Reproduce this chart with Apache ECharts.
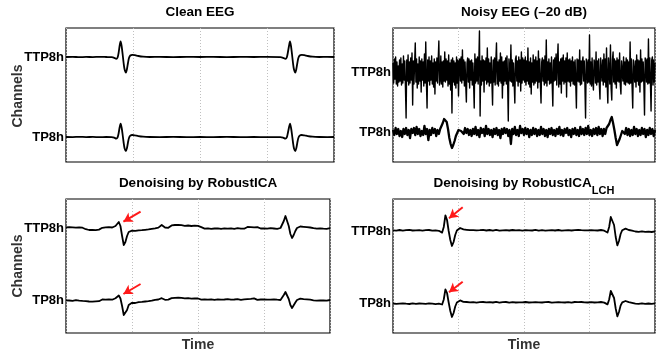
<!DOCTYPE html>
<html>
<head>
<meta charset="utf-8">
<script src="https://cdn.jsdelivr.net/npm/echarts@6/dist/echarts.min.js"></script>
<style>
  html, body { margin: 0; padding: 0; background: #fff; }
  #main { width: 660px; height: 356px; }
</style>
</head>
<body>
<div id="main"></div>
<script>
// channel names (y tick labels)
var channels = ['TTP8h', 'TP8h'];

// clean EEG, sparse [time, amplitude] points
var cleanTTP = [[0,0],[10,0.2],[20,-0.2],[30,0.1],[40,-0.1],[50,0.2],[60,0],[68,-0.2],[72,-0.8],[75,-1.8],[77,-0.5],[78.5,4],[80,11],[81.5,15.5],[83,11],[84.5,3],[86,-6],[87.5,-12.5],[89.5,-15.5],[91,-12],[92.5,-6],[94,-1],[96,1.5],[99,2.2],[103,1.8],[108,1],[115,0.3],[125,0],[140,0.1],[160,-0.1],[180,0.1],[200,0],[220,0.1],[240,-0.1],[260,0.1],[280,0],[300,0.1],[320,-0.2],[324,-0.8],[327.5,-1.8],[329.5,-0.5],[331,4],[332.8,11],[334.3,15.5],[335.8,11],[337.3,3],[338.8,-6],[340.3,-12.5],[342.3,-15.5],[343.8,-12],[345.3,-6],[346.8,-1],[348.8,1.5],[351.8,2.2],[355.8,1.8],[360.8,1],[367.8,0.3],[378,0],[390,0.1],[400,0]];
var cleanTP = [[0,0],[10,-0.1],[20,0.2],[30,-0.1],[40,0.1],[50,-0.2],[60,0],[68,-0.2],[72,-0.7],[75,-1.6],[77,-0.4],[78.5,3.5],[80,9.5],[81.5,13.4],[83,9.5],[84.5,2.5],[86,-5.5],[87.5,-11.5],[89.5,-14],[91,-11],[92.5,-5.5],[94,-1],[96,1.3],[99,2],[103,1.6],[108,0.9],[115,0.3],[125,0],[140,-0.1],[160,0.1],[180,-0.1],[200,0],[220,-0.1],[240,0.1],[260,-0.1],[280,0],[300,-0.1],[320,-0.2],[324,-0.7],[327.5,-1.6],[329.5,-0.4],[331,3.5],[332.8,9.5],[334.3,13.4],[335.8,9.5],[337.3,2.5],[338.8,-5.5],[340.3,-11.5],[342.3,-14],[343.8,-11],[345.3,-5.5],[346.8,-1],[348.8,1.3],[351.8,2],[355.8,1.6],[360.8,0.9],[367.8,0.3],[378,0],[390,-0.1],[400,0]];

// noisy EEG (-20 dB): TTP8h one value per time unit, TP8h one every 2
var noisyTTPStep = 1;
var noisyTTP = [
  9,-11,13,-7,15,-12,10,-14,6,-10,12,-9,14,-13,8,-11,16,-8,11,-15,
  -46,12,-9,17,-13,10,-11,14,-8,19,-33,11,-12,9,29,-10,13,-16,8,-12,
  15,-9,11,-20,13,-8,10,-14,18,-11,30,-10,-36,12,-9,15,-13,11,-8,16,
  -12,9,-15,13,-22,10,-9,14,-11,12,31,-13,-8,16,-12,10,-15,11,-9,20,
  -10,13,-8,11,-14,17,-12,9,-18,12,-41,14,-10,11,-13,9,-16,15,-11,12,
  -24,10,13,-9,15,-11,22,-8,12,-14,10,-12,-30,9,14,-10,13,-16,11,-8,
  12,-13,9,-10,-36,18,-11,13,-9,15,-12,10,41,-44,11,-13,16,-9,12,-20,
  11,-8,14,-12,24,-10,13,-14,9,-11,15,-9,-33,12,-10,14,-13,11,29,-12,
  10,-14,12,-9,19,-11,15,-26,10,-13,11,-9,14,-12,16,-10,-49,13,11,-9,
  27,-10,12,-14,9,-11,-31,13,16,-9,11,-14,15,-10,12,-19,20,-11,14,-8,
  12,-10,15,-13,11,-9,24,-12,10,-15,14,-22,9,-10,17,-13,12,-11,15,-9,
  11,-16,21,-10,13,-12,-31,10,14,-9,12,-13,16,-11,32,-14,10,-8,13,-12,
  9,-11,15,-10,-34,12,-9,14,-8,18,-13,11,28,-15,10,-12,13,-21,14,-9,
  17,-12,11,-10,14,-25,19,-9,12,-10,13,-14,11,-9,15,-12,10,-13,12,-11,
  -36,13,-9,12,-10,22,-13,11,-12,10,15,-9,11,-12,-46,13,9,-11,12,-10,
  37,-12,10,-14,14,-10,-18,12,9,-11,20,-13,11,-10,13,-12,-27,14,16,-9,
  12,-13,18,-10,13,-15,24,-11,-31,14,15,-12,27,-16,-28,12,20,-10,13,-12,
  11,-16,14,-9,12,-10,19,-13,-22,11,12,-9,15,-12,10,-13,14,-10,12,-11,
  10,-12,30,-11,13,-14,-36,12,14,-10,11,-15,17,-9,12,-13,11,-20,22,-10,
  13,-9,10,-12,-43,14,11,-10,13,-12,33,-11,14,-10,-39,12,15,-13,12,-10,
  9
];
var noisyTPStep = 2;
var noisyTP = [
  2,-3,4,-2,3,-4,1,-5,3,-2,4,-3,2,-6,3,-1,4,-3,5,-2,
  3,-4,1,-3,6,-2,3,-8,2,-3,4,-1,3,-4,2,-2,3,5,9,13,
  15,10,3,-6,-12,-16,-13,-9,-4,-1,2,4,1,3,-2,4,-1,3,-3,2,
  -4,3,-2,5,-3,2,-5,4,-1,3,-4,6,-2,3,-3,2,-5,3,-2,4,
  -3,2,-6,3,-2,4,-1,3,-4,2,-12,3,-2,5,-3,2,-4,6,-1,3,
  -3,4,-2,3,-5,2,-3,4,-2,3,-4,2,-3,5,-2,3,-4,2,-5,3,
  -2,4,-3,2,-4,3,-2,5,-3,2,-4,3,-1,4,-3,2,-5,3,-2,4,
  -3,2,-4,5,-2,3,-3,4,-2,6,-3,2,-4,3,-2,4,-3,5,-2,3,
  -4,3,-2,4,5,8,12,15,9,2,-6,-13,-11,-7,-3,1,3,-2,4,-3,
  3,-4,2,-3,5,-2,3,-4,2,-3,4,-2,3,-5,2,-3,4,-2,3,-4,
  2
];

// denoised outputs, one value every 2.5 time units
var denStep = 2.5;
var ricaTTP = [
  0.5,-0.5,0.8,-0.3,0.6,-0.8,0.4,-0.2,0.7,-0.6,0.3,-0.9,-1.2,-0.8,-2,-1.3,-1.8,-0.9,-2.1,-1.2,
  -1.6,-0.4,0.2,1.2,0.6,1.5,0.8,1.3,0.5,1.6,2,4,6,2,-8,-17,-14,-8,-4,-3.2,
  -2.6,-3.4,-2.8,-3.1,-2.4,-3,-2.2,-2.7,-1.8,-2.3,-1.4,-1.8,-0.8,-1.2,-0.3,-0.9,0.4,1.2,3,1.5,
  0.5,1.1,0.2,1.8,2.6,2,3,2.4,3.2,2.1,2.8,3.4,2.2,2.9,2.5,3.3,2,2.7,2.3,3,
  2.1,1.4,0.8,0.2,-0.6,0.5,-0.4,0.7,-0.8,0.3,-0.5,0.9,-0.3,0.6,-0.9,0.2,-0.4,0.8,-0.6,0.4,
  -0.3,0.7,-0.8,0.5,-0.2,0.9,-0.6,0.3,-0.7,0.6,1,0.2,0.8,1.4,0.6,2.2,0.9,0.3,-0.5,0.6,
  -0.4,0.8,-0.7,0.5,-0.2,1,-0.5,0.4,-0.8,0.6,0,2,7,12,10,2,-6,-10,-7,-3,
  0,1,1.5,1.8,1.2,1.6,0.9,1.2,0.5,0.8,-0.2,0.6,-0.7,0.4,-0.3,0.8,-0.6,0.5,-0.8,0.3,
  -0.2
];
var ricaTP = [
  -0.4,0.6,-0.5,0.3,-0.8,0.5,-0.2,0.7,-0.6,0.2,-0.9,0.4,-1.1,-0.6,-1.5,-0.9,-1.7,-1.1,-1.4,-0.7,
  -1.2,-0.2,0.5,1,0.4,1.3,0.7,1.1,0.3,1.4,1.8,3,4.5,1.5,-6,-15,-16,-10,-5,-3,
  -2.8,-2.2,-3,-2.5,-2.1,-2.7,-1.9,-2.4,-1.5,-2,-1.1,-1.6,-0.6,-1,0.2,-0.5,0.5,1,1.8,0.7,
  0.2,0.9,0.4,1.2,1.8,1.3,2.2,1.6,2.4,1.5,2.1,2.6,1.6,2.3,1.8,2.5,1.4,2,1.7,2.2,
  1.5,1,0.4,-0.2,0.5,-0.6,0.3,-0.4,0.7,-0.5,0.2,-0.8,0.6,-0.3,0.4,-0.7,0.5,-0.2,0.8,-0.4,
  0.3,-0.6,0.5,-0.3,0.8,-0.5,0.2,-0.7,0.6,-0.2,0.9,0.4,1.1,0.5,1.6,0.8,0.2,-0.4,0.5,-0.3,
  0.6,-0.5,0.3,-0.8,0.4,-0.2,0.7,-0.5,0.3,-0.6,0,1.5,5,8,6,1,-5,-8,-6,-2.5,
  0,1,1.3,1.5,0.9,1.2,0.6,1,0.3,0.7,-0.3,0.5,-0.6,0.3,-0.4,0.7,-0.5,0.4,-0.7,0.2,
  0
];
var lchTTP = [
  0.6,-0.8,0.4,-0.5,1,-0.7,0.3,-1,0.8,-0.4,1.2,-0.6,0.5,-0.9,0.7,-0.3,0.9,-1.1,0.4,-0.6,
  0.8,-0.4,1,-0.8,0.3,-1.2,0.6,-0.5,0.2,-1,-1.6,4,15.6,11,0,-9,-15,-11,-4,0.5,
  2.4,3,2.2,1.6,0.6,1.2,-0.2,0.8,-0.5,0.9,-0.7,0.6,-1,0.8,-0.4,1.1,-0.8,0.5,-0.6,1,
  -0.9,0.4,-0.5,1.2,-0.7,0.3,-1,0.7,-0.4,0.9,-0.8,0.5,-0.3,1,-0.9,0.6,-0.5,0.8,-1.1,0.4,
  -0.6,0.9,-0.4,0.7,-1,0.5,-0.7,1.1,-0.5,0.3,-0.9,0.8,-0.6,0.4,-1.2,0.7,-0.3,0.9,-0.8,0.5,
  -0.5,1,-0.7,0.4,-0.9,0.6,-0.4,0.8,-1,0.5,-0.3,0.9,0.2,1.1,0.4,0.8,1.3,0.6,2.2,0.7,
  0.1,0.9,-0.5,0.7,-0.8,0.5,-0.4,1,-0.6,0.3,-1,-1.5,4,14,15.4,6,-6,-14.4,-10,-3,
  0.8,2,2.4,1.8,1,1.4,0.3,0.9,-0.5,0.7,-0.8,0.6,-0.4,1,-0.9,0.5,-0.6,0.8,-1,0.4,
  -0.3
];
var lchTP = [
  -0.5,0.7,-0.9,0.4,-0.6,1,-0.3,0.8,-0.7,0.5,-1,0.6,-0.4,0.9,-0.8,0.3,-0.5,1.1,-0.6,0.4,
  -0.9,0.6,-0.3,1,-0.7,0.5,-1.1,0.3,-0.6,0.8,-1.5,3.5,13.6,10,0.5,-8,-14,-10,-3.5,0.5,
  2.2,2.6,1.8,1.2,0.4,1,-0.4,0.7,-0.6,0.9,-0.5,0.4,-0.9,0.8,-0.3,1,-0.7,0.6,-0.5,0.9,
  -0.8,0.5,-0.4,1.1,-0.9,0.3,-0.7,0.8,-0.5,1,-1,0.4,-0.3,0.9,-0.6,0.5,-0.8,0.7,-1,0.6,
  -0.4,1,-0.6,0.5,-0.9,0.7,-0.5,0.9,-0.3,0.6,-1,0.5,-0.7,0.8,-0.4,1,-0.6,0.4,-0.9,0.7,
  -0.6,0.8,-0.4,0.6,-1,0.5,-0.7,0.9,-0.5,0.3,-0.8,1,0.1,0.9,0.5,1,1.4,0.6,1.8,0.5,
  -0.2,0.8,-0.6,0.5,-0.9,0.7,-0.3,1,-0.7,0.4,-0.9,-1.4,3.5,12,13.3,5,-5.5,-13.4,-9,-2.5,
  0.6,1.8,2,1.5,0.8,1.2,0.2,0.8,-0.6,0.5,-0.9,0.7,-0.3,0.9,-0.8,0.4,-0.5,0.8,-0.9,0.3,
  -0.4
];

// red arrows pointing at the detected spikes: [fromX, fromY, toX, toY]
var ricaArrows = [[113, 16.3, 87, 6.3], [113, -56, 87, -66]];
var lchArrows = [[106.4, 23.7, 85.5, 12.7], [106.4, -50.7, 85.5, -61.3]];

var FONT = 'Liberation Sans, Arial, Helvetica, sans-serif';

// panel layout: grid box, channel offsets, y range
var panels = [
  { box: [66, 28, 268, 134], off: [0, -80], ymin: -105, ymax: 29, time: false },
  { box: [393, 28, 262, 134], off: [0, -60], ymin: -90, ymax: 44, time: false },
  { box: [66, 199, 264, 134], off: [0, -72], ymin: -105, ymax: 29, time: true },
  { box: [393, 199, 262, 134], off: [0, -72], ymin: -102, ymax: 32, time: true }
];

function stepped(vals, step, off) {
  return vals.map(function (v, i) { return [i * step, v + off]; });
}
function paired(pts, off) {
  return pts.map(function (p) { return [p[0], p[1] + off]; });
}
function arrows(list) {
  return list.map(function (a) {
    return [{ coord: [a[0], a[1]] }, { coord: [a[2], a[3]] }];
  });
}

var grids = [], xAxes = [], yAxes = [];
panels.forEach(function (p, k) {
  grids.push({
    left: p.box[0], top: p.box[1], width: p.box[2], height: p.box[3],
    show: true, borderColor: '#000', borderWidth: 1.2, backgroundColor: '#fff',
    containLabel: false, outerBoundsMode: 'none'
  });
  xAxes.push({
    gridIndex: k, type: 'value', min: 0, max: 400, interval: 100,
    axisLine: { show: false }, axisTick: { show: false }, axisLabel: { show: false },
    splitLine: { show: true, lineStyle: { color: '#c0c0c0', type: [1, 2], width: 1 } },
    name: p.time ? 'Time' : '', nameLocation: 'middle', nameGap: 5,
    nameTextStyle: { fontFamily: FONT, fontWeight: 'bold', fontSize: 14, color: '#333', verticalAlign: 'top' }
  });
  yAxes.push({
    gridIndex: k, type: 'value', min: p.ymin, max: p.ymax,
    axisLine: { show: false }, axisTick: { show: false }, splitLine: { show: false },
    axisLabel: {
      show: true, customValues: [p.off[1], p.off[0]], margin: 2,
      fontFamily: FONT, fontWeight: 'bold', fontSize: 13, color: '#000',
      formatter: function (v) { return v === p.off[0] ? channels[0] : channels[1]; }
    }
  });
});

function line(k, data, width, extra) {
  var s = {
    type: 'line', xAxisIndex: k, yAxisIndex: k, data: data,
    showSymbol: false, symbol: 'none', clip: true, animation: false,
    lineStyle: { color: '#000', width: width, join: 'round' }
  };
  for (var key in extra) s[key] = extra[key];
  return s;
}

var arrowLine = function (list) {
  return {
    silent: true, symbol: ['none', 'arrow'], symbolSize: [8, 9], animation: false,
    label: { show: false },
    lineStyle: { color: '#ff1a1a', width: 2, type: 'solid' },
    data: arrows(list)
  };
};

var series = [
  line(0, paired(cleanTTP, panels[0].off[0]), 1.8, { smooth: 0.3 }),
  line(0, paired(cleanTP, panels[0].off[1]), 1.8, { smooth: 0.3 }),
  line(1, stepped(noisyTTP, noisyTTPStep, panels[1].off[0]), 1.4),
  line(1, stepped(noisyTP, noisyTPStep, panels[1].off[1]), 2.3),
  line(2, stepped(ricaTTP, denStep, panels[2].off[0]), 1.8, { markLine: arrowLine(ricaArrows) }),
  line(2, stepped(ricaTP, denStep, panels[2].off[1]), 1.8),
  line(3, stepped(lchTTP, denStep, panels[3].off[0]), 1.8, { markLine: arrowLine(lchArrows) }),
  line(3, stepped(lchTP, denStep, panels[3].off[1]), 1.8)
];

var titleStyle = { fontFamily: FONT, fontWeight: 'bold', fontSize: 13.5, color: '#000' };
var titles = [
  { text: 'Clean EEG', left: 200, top: 5, textAlign: 'center', padding: 0, textStyle: titleStyle },
  { text: 'Noisy EEG (–20 dB)', left: 524, top: 5, textAlign: 'center', padding: 0, textStyle: titleStyle },
  { text: 'Denoising by RobustICA', left: 198, top: 176, textAlign: 'center', padding: 0, textStyle: titleStyle },
  {
    text: '{m|Denoising by RobustICA}{s|LCH}', left: 524, top: 170, textAlign: 'center', padding: 0,
    textStyle: {
      rich: {
        m: { fontFamily: FONT, fontWeight: 'bold', fontSize: 13.5, color: '#000', lineHeight: 26, verticalAlign: 'middle' },
        s: { fontFamily: FONT, fontWeight: 'bold', fontSize: 11, color: '#000', lineHeight: 12, verticalAlign: 'bottom' }
      }
    }
  }
];

var chLabel = function (cy) {
  return {
    type: 'text', x: 18, y: cy, rotation: Math.PI / 2, silent: true,
    style: { text: 'Channels', fontFamily: FONT, fontWeight: 'bold', fontSize: 14, fill: '#333', align: 'center', verticalAlign: 'middle' }
  };
};

var chart = echarts.init(document.getElementById('main'), null, { renderer: 'canvas' });
chart.setOption({
  animation: false,
  backgroundColor: '#fff',
  title: titles,
  grid: grids,
  xAxis: xAxes,
  yAxis: yAxes,
  series: series,
  graphic: [chLabel(96), chLabel(266)]
});
</script>
</body>
</html>
